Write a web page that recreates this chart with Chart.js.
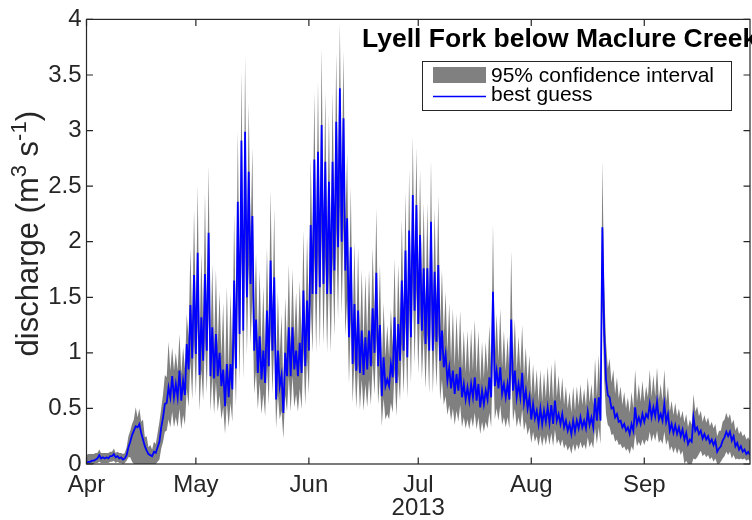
<!DOCTYPE html>
<html>
<head>
<meta charset="utf-8">
<script src="https://cdn.jsdelivr.net/npm/chart.js@4.4.1/dist/chart.umd.min.js"></script>
<style>
  html, body { margin: 0; padding: 0; background: #fff; }
  #chart { display: block; }
</style>
</head>
<body>
<canvas id="chart" width="752" height="520"></canvas>
<script>
// discharge (m3/s), two readings per day: daily low then daily high, starting Apr 1 2013
const aprBest = [
  0.01,0.02, 0.02,0.03, 0.03,0.04, 0.05,0.08, 0.05,0.06, 0.05,0.06, 0.05,0.07, 0.07,0.09, 0.06,0.07, 0.05,0.06,
  0.04,0.05, 0.08,0.15, 0.2,0.26, 0.3,0.34, 0.33,0.36, 0.28,0.22, 0.16,0.12, 0.09,0.08, 0.07,0.11, 0.1,0.15,
  0.2,0.33, 0.42,0.54, 0.55,0.69, 0.6,0.79, 0.6,0.72, 0.6,0.84, 0.57,0.75, 0.62,1.08, 0.85,1.43, 0.95,1.7
];
const mayBest = [
  0.99,1.9, 0.8,1.32, 0.93,1.71, 1.02,2.08, 0.79,1.23, 0.77,1.17, 0.79,1.0, 0.7,0.85, 0.52,0.9, 0.6,0.9,
  0.67,1.65, 0.86,2.36, 1.17,2.91, 1.2,2.99, 1.5,2.63, 1.62,2.23, 1.02,1.3, 0.82,1.15, 0.76,1.02, 0.73,1.38,
  0.88,1.83, 1.02,1.68, 0.58,1.02, 0.7,0.8, 0.46,1.0, 0.79,1.23, 0.79,1.23, 0.85,1.02, 0.79,1.09, 0.82,1.56,
  0.88,1.47
];
const junBest = [
  1.02,2.15, 1.53,2.74, 1.53,2.81, 1.59,3.05, 1.62,2.72, 1.53,2.54, 1.53,2.72, 1.74,3.08, 1.95,3.38, 2.0,3.11,
  1.74,2.21, 1.14,1.95, 0.9,1.44, 0.84,1.38, 0.82,1.2, 0.8,1.14, 0.85,1.2, 0.88,1.4, 1.0,1.72, 0.88,1.25,
  0.61,0.96, 0.7,0.76, 0.7,0.9, 0.78,1.32, 0.73,1.26, 0.93,1.65, 1.02,1.92, 0.96,2.1, 1.14,2.42, 1.38,2.33
];
const julBest = [
  1.26,2.06, 1.2,1.76, 1.08,1.76, 1.02,2.18, 1.02,1.73, 1.1,1.79, 0.93,1.2, 0.87,0.99, 0.75,0.87, 0.68,0.84,
  0.63,0.81, 0.66,0.87, 0.6,0.72, 0.58,0.69, 0.57,0.72, 0.6,0.78, 0.57,0.72, 0.51,0.66, 0.54,0.66, 0.58,0.78,
  0.6,1.55, 0.7,0.84, 0.68,0.87, 0.63,0.72, 0.6,0.72, 0.58,1.3, 0.66,0.84, 0.6,0.72, 0.6,0.82, 0.55,0.66,
  0.5,0.6
];
const augBest = [
  0.4,0.54, 0.41,0.48, 0.36,0.5, 0.36,0.48, 0.38,0.51, 0.37,0.53, 0.36,0.57, 0.39,0.45, 0.36,0.45, 0.33,0.39,
  0.3,0.36, 0.27,0.39, 0.29,0.39, 0.32,0.42, 0.33,0.39, 0.32,0.47, 0.35,0.42, 0.33,0.59, 0.39,0.6, 0.39,2.13,
  1.2,0.76, 0.62,0.6, 0.5,0.51, 0.42,0.45, 0.38,0.39, 0.33,0.36, 0.3,0.33, 0.27,0.36, 0.3,0.51, 0.36,0.42,
  0.36,0.45
];
const sepBest = [
  0.38,0.45, 0.42,0.54, 0.42,0.51, 0.43,0.56, 0.4,0.45, 0.39,0.54, 0.38,0.45, 0.3,0.36, 0.28,0.35, 0.27,0.33,
  0.25,0.31, 0.22,0.28, 0.18,0.22, 0.2,0.42, 0.3,0.33, 0.27,0.3, 0.23,0.27, 0.22,0.25, 0.19,0.22, 0.17,0.21,
  0.11,0.14, 0.16,0.21, 0.24,0.29, 0.25,0.29, 0.21,0.25, 0.16,0.19, 0.13,0.16, 0.11,0.13, 0.09,0.11, 0.08,0.1
];

// 95% confidence interval, upper edge
const aprUpper = [
  0.08,0.09, 0.09,0.09, 0.09,0.1, 0.1,0.13, 0.1,0.1, 0.1,0.1, 0.1,0.11, 0.11,0.14, 0.1,0.11, 0.1,0.1,
  0.09,0.1, 0.15,0.25, 0.3,0.36, 0.4,0.51, 0.42,0.5, 0.38,0.4, 0.24,0.25, 0.15,0.17, 0.13,0.2, 0.18,0.28,
  0.38,0.5, 0.63,0.8, 0.78,1.1, 0.84,1.05, 0.84,1.0, 0.84,1.17, 0.81,1.05, 0.86,1.35, 1.13,1.94, 1.24,2.29
];
const mayUpper = [
  1.29,2.51, 1.07,1.9, 1.22,2.44, 1.32,2.69, 1.06,1.8, 1.04,1.75, 1.06,1.55, 0.96,1.45, 0.75,1.6, 0.84,1.55,
  0.92,2.25, 1.14,3.0, 1.5,3.55, 1.53,3.67, 1.88,3.25, 2.01,2.85, 1.32,1.9, 1.09,1.75, 1.02,1.6, 0.99,1.95,
  1.16,2.47, 1.32,2.3, 0.82,1.55, 0.96,1.35, 0.68,1.5, 1.06,1.8, 1.06,1.75, 1.13,1.55, 1.06,1.65, 1.09,2.1,
  1.16,2.05
];
const junUpper = [
  1.32,2.75, 1.91,3.35, 1.91,3.45, 1.98,3.75, 2.01,3.35, 1.91,3.15, 1.91,3.35, 2.15,3.7, 2.39,3.97, 2.45,3.72,
  2.15,2.8, 1.46,2.5, 1.19,2.0, 1.12,1.95, 1.09,1.75, 1.07,1.7, 1.13,1.75, 1.16,1.95, 1.3,2.3, 1.16,1.8,
  0.85,1.45, 0.96,1.25, 0.96,1.4, 1.05,1.85, 0.99,1.8, 1.22,2.2, 1.32,2.45, 1.25,2.65, 1.46,2.95, 1.74,2.85
];
const julUpper = [
  1.6,2.65, 1.53,2.35, 1.39,2.35, 1.32,2.74, 1.32,2.3, 1.42,2.42, 1.22,1.75, 1.15,1.55, 1.01,1.45, 0.93,1.4,
  0.87,1.35, 0.91,1.38, 0.84,1.2, 0.82,1.2, 0.81,1.22, 0.84,1.3, 0.81,1.2, 0.74,1.1, 0.77,1.1, 0.82,1.25,
  0.84,2.16, 0.96,1.35, 0.93,1.4, 0.87,1.2, 0.84,1.15, 0.82,1.92, 0.91,1.3, 0.84,1.15, 0.84,1.25, 0.78,1.05,
  0.73,0.98
];
const augUpper = [
  0.61,0.9, 0.62,0.85, 0.56,0.85, 0.56,0.82, 0.59,0.88, 0.58,0.9, 0.56,0.95, 0.6,0.8, 0.56,0.78, 0.53,0.7,
  0.5,0.65, 0.46,0.7, 0.48,0.7, 0.52,0.72, 0.53,0.68, 0.52,0.78, 0.55,0.72, 0.53,0.95, 0.6,0.98, 0.6,2.73,
  1.6,1.1, 0.86,0.95, 0.73,0.85, 0.63,0.78, 0.59,0.7, 0.53,0.65, 0.5,0.6, 0.46,0.65, 0.5,0.85, 0.56,0.72,
  0.56,0.75
];
const sepUpper = [
  0.56,0.7, 0.6,0.85, 0.6,0.8, 0.61,0.87, 0.58,0.72, 0.57,0.85, 0.56,0.7, 0.47,0.57, 0.44,0.55, 0.43,0.5,
  0.41,0.48, 0.37,0.45, 0.33,0.4, 0.35,0.63, 0.47,0.52, 0.43,0.48, 0.38,0.44, 0.37,0.42, 0.34,0.38, 0.32,0.36,
  0.25,0.3, 0.3,0.38, 0.4,0.46, 0.41,0.45, 0.36,0.4, 0.3,0.34, 0.27,0.3, 0.25,0.27, 0.22,0.24, 0.21,0.22
];

// 95% confidence interval, lower edge
const aprLower = [
  0,0, 0,0, 0,0.01, 0.01,0.02, 0.01,0.01, 0.01,0.01, 0.01,0.02, 0.02,0.03, 0.01,0.02, 0.01,0.01,
  0,0.01, 0.03,0.06, 0.06,0.02, 0,0, 0,0, 0,0, 0,0, 0,0, 0,0, 0,0.02,
  0.04,0.14, 0.2,0.29, 0.3,0.4, 0.33,0.47, 0.33,0.42, 0.33,0.5, 0.31,0.44, 0.35,0.68, 0.51,0.93, 0.58,1.12
];
const mayLower = [
  0.61,1.27, 0.48,0.85, 0.57,1.13, 0.63,1.4, 0.47,0.79, 0.45,0.74, 0.47,0.62, 0.4,0.51, 0.27,0.55, 0.33,0.55,
  0.38,1.09, 0.52,1.6, 0.74,1.99, 0.76,2.05, 0.98,1.79, 1.07,1.51, 0.63,0.84, 0.49,0.73, 0.45,0.63, 0.43,0.89,
  0.53,1.22, 0.63,1.11, 0.32,0.63, 0.4,0.48, 0.23,0.62, 0.47,0.79, 0.47,0.79, 0.51,0.63, 0.47,0.68, 0.49,1.02,
  0.53,0.96
];
const junLower = [
  0.63,1.45, 1.0,1.87, 1.0,1.92, 1.04,2.1, 1.07,1.86, 1.0,1.73, 1.0,1.86, 1.15,2.12, 1.3,2.33, 1.34,2.14,
  1.15,1.49, 0.72,1.3, 0.55,0.94, 0.5,0.89, 0.49,0.76, 0.48,0.72, 0.51,0.76, 0.53,0.91, 0.62,1.14, 0.53,0.8,
  0.34,0.59, 0.4,0.45, 0.4,0.55, 0.46,0.85, 0.43,0.81, 0.57,1.09, 0.63,1.28, 0.59,1.41, 0.72,1.64, 0.89,1.58
];
const julLower = [
  0.81,1.38, 0.76,1.17, 0.68,1.17, 0.63,1.47, 0.63,1.15, 0.69,1.19, 0.57,0.76, 0.53,0.61, 0.44,0.53, 0.39,0.5,
  0.35,0.48, 0.38,0.53, 0.33,0.42, 0.32,0.4, 0.31,0.42, 0.33,0.46, 0.31,0.42, 0.27,0.38, 0.29,0.38, 0.32,0.46,
  0.33,1.02, 0.4,0.5, 0.39,0.53, 0.35,0.42, 0.33,0.42, 0.32,0.84, 0.38,0.5, 0.33,0.42, 0.33,0.49, 0.3,0.38,
  0.26,0.33
];
const augLower = [
  0.19,0.29, 0.2,0.25, 0.16,0.26, 0.16,0.25, 0.17,0.27, 0.17,0.28, 0.16,0.31, 0.18,0.22, 0.16,0.22, 0.14,0.18,
  0.12,0.16, 0.09,0.18, 0.11,0.18, 0.13,0.2, 0.14,0.18, 0.13,0.24, 0.15,0.2, 0.14,0.32, 0.18,0.33, 0.18,1.43,
  0.76,0.45, 0.35,0.33, 0.26,0.27, 0.2,0.22, 0.17,0.18, 0.14,0.16, 0.12,0.14, 0.09,0.16, 0.12,0.27, 0.16,0.2,
  0.16,0.22
];
const sepLower = [
  0.17,0.22, 0.2,0.29, 0.2,0.27, 0.21,0.3, 0.19,0.22, 0.18,0.29, 0.17,0.22, 0.12,0.16, 0.1,0.15, 0.09,0.14,
  0.08,0.12, 0,0.03, 0,0, 0,0.05, 0.04,0.06, 0.09,0.12, 0.07,0.09, 0.06,0.08, 0.04,0.06, 0.02,0.05,
  0,0, 0.02,0.05, 0.07,0.11, 0.08,0.11, 0.05,0.08, 0.04,0.05, 0.04,0.05, 0.04,0.05, 0.03,0.04, 0.03,0.04
];

const monthNames = ['Apr', 'May', 'Jun', 'Jul', 'Aug', 'Sep'];
const monthStarts = [0, 30, 61, 91, 122, 153]; // days since Apr 1

const best = [].concat(aprBest, mayBest, junBest, julBest, augBest, sepBest);
const upper = [].concat(aprUpper, mayUpper, junUpper, julUpper, augUpper, sepUpper);
const lower = [].concat(aprLower, mayLower, junLower, julLower, augLower, sepLower);

// reading i sits at day i/2
const pts = arr => arr.map((v, i) => ({ x: i / 2, y: v }));

const FONT = '"Liberation Sans", Arial, Helvetica, sans-serif';
const AX = '#262626';

const frame = {
  id: 'frame',
  afterDraw(chart) {
    const { ctx, chartArea: a, scales: { x, y } } = chart;
    ctx.save();

    // box + inward ticks on all sides
    ctx.strokeStyle = AX;
    ctx.lineWidth = 1.2;
    ctx.strokeRect(a.left, a.top, a.right - a.left, a.bottom - a.top);
    ctx.beginPath();
    x.ticks.forEach(t => {
      const px = x.getPixelForValue(t.value);
      ctx.moveTo(px, a.bottom); ctx.lineTo(px, a.bottom - 6.5);
      ctx.moveTo(px, a.top); ctx.lineTo(px, a.top + 6.5);
    });
    y.ticks.forEach(t => {
      const py = y.getPixelForValue(t.value);
      ctx.moveTo(a.left, py); ctx.lineTo(a.left + 6.5, py);
      ctx.moveTo(a.right, py); ctx.lineTo(a.right - 6.5, py);
    });
    ctx.stroke();

    // y label with superscripts
    const big = '31px ' + FONT, small = '22px ' + FONT;
    const parts = [['discharge (m', big, 0], ['3', small, -12], [' s', big, 0], ['-1', small, -12], [')', big, 0]];
    let total = 0;
    parts.forEach(p => { ctx.font = p[1]; total += ctx.measureText(p[0]).width; });
    ctx.save();
    ctx.translate(38, (a.top + a.bottom) / 2 - 8);
    ctx.rotate(-Math.PI / 2);
    ctx.fillStyle = AX;
    ctx.textBaseline = 'alphabetic';
    let cx = -total / 2;
    parts.forEach(p => {
      ctx.font = p[1];
      ctx.fillText(p[0], cx, p[2]);
      cx += ctx.measureText(p[0]).width;
    });
    ctx.restore();

    // title inside the axes
    ctx.font = 'bold 26.5px ' + FONT;
    ctx.fillStyle = '#000';
    ctx.textBaseline = 'alphabetic';
    ctx.fillText('Lyell Fork below Maclure Creek', 362, 47);

    // legend
    ctx.fillStyle = '#fff';
    ctx.fillRect(422, 61, 309, 49);
    ctx.lineWidth = 1;
    ctx.strokeStyle = AX;
    ctx.strokeRect(422.5, 61.5, 309, 49);
    ctx.fillStyle = '#808080';
    ctx.fillRect(433, 67, 53, 16);
    ctx.strokeStyle = '#0000ff';
    ctx.lineWidth = 1.5;
    ctx.beginPath(); ctx.moveTo(433, 96.5); ctx.lineTo(486, 96.5); ctx.stroke();
    ctx.fillStyle = '#000';
    ctx.font = '21px ' + FONT;
    ctx.fillText('95% confidence interval', 491, 82);
    ctx.fillText('best guess', 491, 100.5);

    ctx.restore();
  }
};

new Chart(document.getElementById('chart'), {
  type: 'line',
  data: {
    datasets: [
      { label: '95% confidence interval', data: pts(upper), borderColor: 'rgba(0,0,0,0)', borderWidth: 0,
        pointRadius: 0, backgroundColor: '#808080', fill: '+1', order: 2 },
      { label: 'lower', data: pts(lower), borderColor: 'rgba(0,0,0,0)', borderWidth: 0,
        pointRadius: 0, fill: false, order: 2 },
      { label: 'best guess', data: pts(best), borderColor: '#0000ff', borderWidth: 1.8,
        pointRadius: 0, fill: false, order: 1 }
    ]
  },
  options: {
    responsive: false,
    animation: false,
    devicePixelRatio: 1,
    layout: { padding: { top: 16, right: 2, left: 0, bottom: 0 } },
    plugins: { legend: { display: false }, tooltip: { enabled: false } },
    scales: {
      x: {
        type: 'linear', min: 0, max: 182,
        grid: { display: false, drawTicks: false },
        border: { display: false },
        afterBuildTicks: s => { s.ticks = monthStarts.map(v => ({ value: v })); },
        afterFit: s => { s.height = 56; },
        ticks: {
          font: { family: FONT, size: 24 }, color: AX, padding: 7,
          maxRotation: 0, autoSkip: false,
          callback: v => monthNames[monthStarts.indexOf(v)]
        },
        title: { display: true, text: '2013', font: { family: FONT, size: 24, lineHeight: 1.0 }, color: AX, padding: { top: 0, bottom: 0 } }
      },
      y: {
        min: 0, max: 4,
        grid: { display: false, drawTicks: false },
        border: { display: false },
        afterFit: s => { s.width = 86.5; },
        ticks: {
          stepSize: 0.5, font: { family: FONT, size: 24 }, color: AX, padding: 5,
          callback: v => String(v)
        }
      }
    }
  },
  plugins: [frame]
});
</script>
</body>
</html>
